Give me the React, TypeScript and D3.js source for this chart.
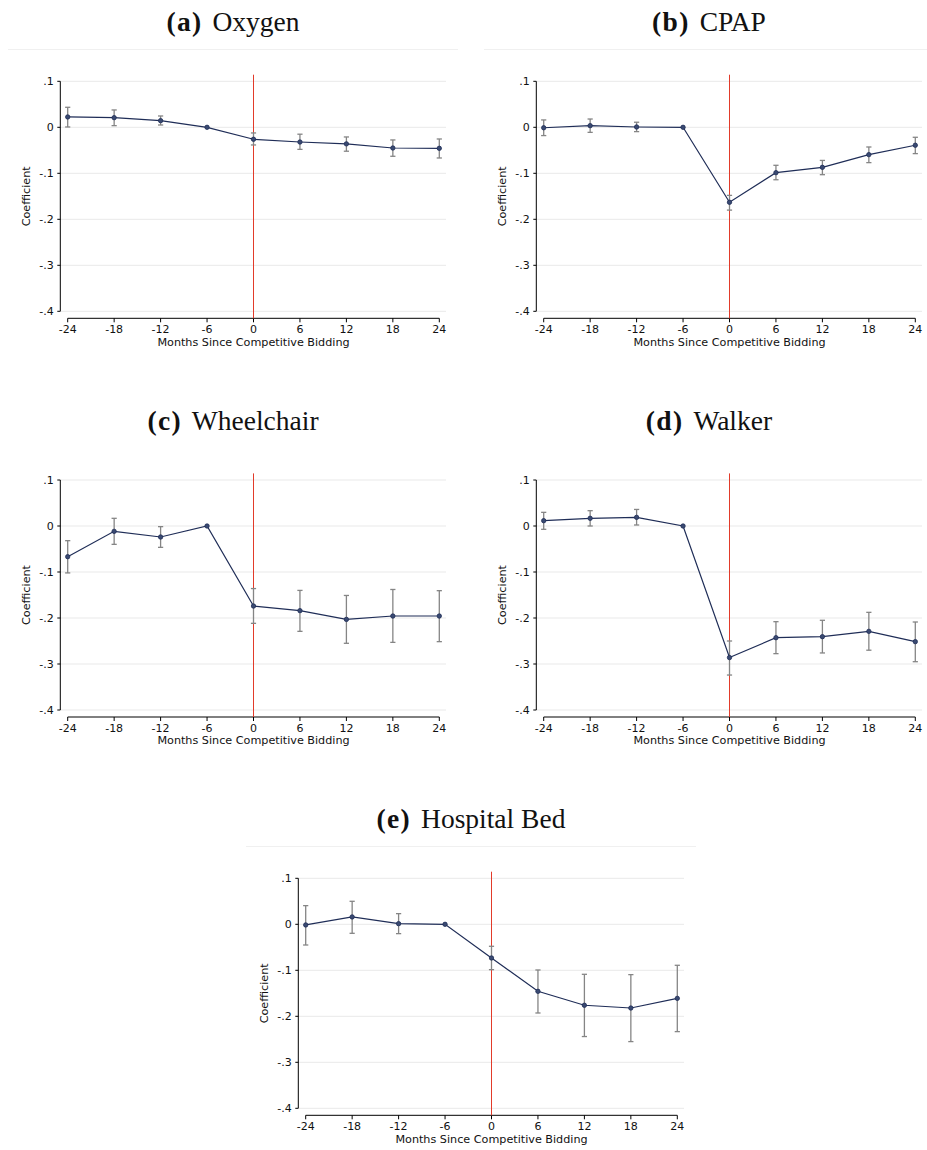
import React from "react";
import * as d3 from "d3";

// Event-study coefficients by product category, months relative to competitive bidding
const months = [-24, -18, -12, -6, 0, 6, 12, 18, 24];
const yTicks = [0.1, 0, -0.1, -0.2, -0.3, -0.4];
const yTickLabels = [".1", "0", "-.1", "-.2", "-.3", "-.4"];

const oxygenCoef = [0.0225, 0.021, 0.0145, 0, -0.026, -0.032, -0.036, -0.045, -0.0457];
const oxygenLo = [0.0007, 0.0036, 0.005, 0, -0.0384, -0.048, -0.052, -0.063, -0.0667];
const oxygenHi = [0.0435, 0.0377, 0.0246, 0, -0.0123, -0.015, -0.021, -0.0275, -0.0254];

const cpapCoef = [-0.001, 0.0036, 0.0007, 0, -0.163, -0.0986, -0.087, -0.0594, -0.039];
const cpapLo = [-0.018, -0.011, -0.0094, 0, -0.18, -0.114, -0.103, -0.0768, -0.0572];
const cpapHi = [0.016, 0.018, 0.011, 0, -0.148, -0.0826, -0.072, -0.0428, -0.0217];

const wheelchairCoef = [-0.0667, -0.0116, -0.0239, 0, -0.174, -0.184, -0.203, -0.1957, -0.1957];
const wheelchairLo = [-0.102, -0.0399, -0.0464, 0, -0.2116, -0.229, -0.255, -0.253, -0.2514];
const wheelchairHi = [-0.0319, 0.0167, -0.0014, 0, -0.136, -0.14, -0.151, -0.138, -0.1406];

const walkerCoef = [0.0116, 0.0167, 0.0188, 0, -0.286, -0.2428, -0.2406, -0.229, -0.2514];
const walkerLo = [-0.0072, 0, 0.0022, 0, -0.324, -0.2775, -0.276, -0.27, -0.295];
const walkerHi = [0.0297, 0.0333, 0.036, 0, -0.25, -0.208, -0.205, -0.1877, -0.2087];

const bedCoef = [-0.0014, 0.016, 0.0014, 0, -0.0732, -0.1457, -0.176, -0.182, -0.161];
const bedLo = [-0.045, -0.0196, -0.0203, 0, -0.0986, -0.1928, -0.244, -0.255, -0.2333];
const bedHi = [0.0406, 0.05, 0.0232, 0, -0.0478, -0.0993, -0.1087, -0.1094, -0.0891];

const panelLetters = ["a", "b", "c", "d", "e"];
const panelNames = ["Oxygen", "CPAP", "Wheelchair", "Walker", "Hospital Bed"];

const panels = [
  { letter: panelLetters[0], name: panelNames[0], coef: oxygenCoef, lo: oxygenLo, hi: oxygenHi, dx: 0, dy: 0, rule: true },
  { letter: panelLetters[1], name: panelNames[1], coef: cpapCoef, lo: cpapLo, hi: cpapHi, dx: 476, dy: 0, rule: true },
  { letter: panelLetters[2], name: panelNames[2], coef: wheelchairCoef, lo: wheelchairLo, hi: wheelchairHi, dx: 0, dy: 398.7, rule: false },
  { letter: panelLetters[3], name: panelNames[3], coef: walkerCoef, lo: walkerLo, hi: walkerHi, dx: 476, dy: 398.7, rule: false },
  { letter: panelLetters[4], name: panelNames[4], coef: bedCoef, lo: bedLo, hi: bedHi, dx: 238, dy: 797, rule: true },
];

const sans = (size: number) => ({ fontFamily: "DejaVu Sans, Verdana, sans-serif", fontSize: `${size}px` });
const SERIF = "Liberation Serif, Times New Roman, serif";
const NAVY = "#1f2d57";
const ERR = "#858585";
const RED = "#e23b2a";
const GRID = "#e9e9e9";

function Panel({ p }: { p: (typeof panels)[number] }) {
  const x = d3.scaleLinear().domain([-24, 24]).range([67.7, 439.3]);
  const y = d3.scaleLinear().domain([-0.4, 0.1]).range([311.3, 81.3]);
  const axisX = 60.3;
  const axisY = 318.3;
  const gridRight = 446;
  const line = d3
    .line<number>()
    .x((_, i) => x(months[i]))
    .y((d) => y(d));
  const cap = 2.6;

  return (
    <g transform={`translate(${p.dx},${p.dy})`}>
      <text x={233} y={31} textAnchor="middle" style={{ fontFamily: SERIF, fontSize: "27.5px" }} fill="#111">
        <tspan fontWeight="bold" style={{ letterSpacing: "1.3px" }}>({p.letter})</tspan>
        <tspan dx={10}>{p.name}</tspan>
      </text>
      {p.rule && <line x1={8} x2={458} y1={49.5} y2={49.5} stroke="#f0f0f0" strokeWidth={1} />}

      {yTicks.map((t) => (
        <line key={`g${t}`} x1={axisX} x2={gridRight} y1={y(t)} y2={y(t)} stroke={GRID} strokeWidth={1} />
      ))}

      <line x1={axisX} x2={axisX} y1={y(0.1)} y2={y(-0.4)} stroke="#000" strokeWidth={1} />
      {yTicks.map((t, i) => (
        <g key={`yt${t}`}>
          <line x1={axisX - 3} x2={axisX} y1={y(t)} y2={y(t)} stroke="#000" strokeWidth={1} />
          <text x={axisX - 6.5} y={y(t)} dy="0.36em" textAnchor="end" style={sans(11)} fill="#111">
            {yTickLabels[i]}
          </text>
        </g>
      ))}
      <text
        transform={`translate(30,${(y(0.1) + y(-0.4)) / 2}) rotate(-90)`}
        textAnchor="middle"
        style={sans(11.2)}
        fill="#111"
      >
        Coefficient
      </text>

      <line x1={x(-24)} x2={x(24)} y1={axisY} y2={axisY} stroke="#000" strokeWidth={1} />
      {months.map((m) => (
        <g key={`xt${m}`}>
          <line x1={x(m)} x2={x(m)} y1={axisY} y2={axisY + 4} stroke="#000" strokeWidth={1} />
          <text x={x(m)} y={axisY + 14.8} textAnchor="middle" style={sans(11)} fill="#111">
            {m}
          </text>
        </g>
      ))}
      <text x={x(0)} y={345.8} textAnchor="middle" style={sans(11.2)} fill="#111">
        Months Since Competitive Bidding
      </text>

      <line x1={x(0)} x2={x(0)} y1={74.7} y2={axisY} stroke={RED} strokeWidth={1} />

      {months.map((m, i) =>
        p.hi[i] === p.lo[i] ? null : (
          <g key={`e${m}`} stroke={ERR} strokeWidth={1.3}>
            <line x1={x(m)} x2={x(m)} y1={y(p.hi[i])} y2={y(p.lo[i])} />
            <line x1={x(m) - cap} x2={x(m) + cap} y1={y(p.hi[i])} y2={y(p.hi[i])} />
            <line x1={x(m) - cap} x2={x(m) + cap} y1={y(p.lo[i])} y2={y(p.lo[i])} />
          </g>
        )
      )}

      <path d={line(p.coef) ?? ""} fill="none" stroke={NAVY} strokeWidth={1.2} />
      {months.map((m, i) => (
        <circle key={`c${m}`} cx={x(m)} cy={y(p.coef[i])} r={2.2} fill="#3a4a72" stroke={NAVY} strokeWidth={0.8} />
      ))}
    </g>
  );
}

export default function App() {
  return (
    <svg
      width={927}
      height={1150}
      viewBox="0 0 927 1150"
      style={{ position: "absolute", left: 0, top: 0, background: "#fff", display: "block" }}
    >
      <rect width={927} height={1150} fill="#fff" />
      {panels.map((p) => (
        <Panel key={p.letter} p={p} />
      ))}
    </svg>
  );
}
